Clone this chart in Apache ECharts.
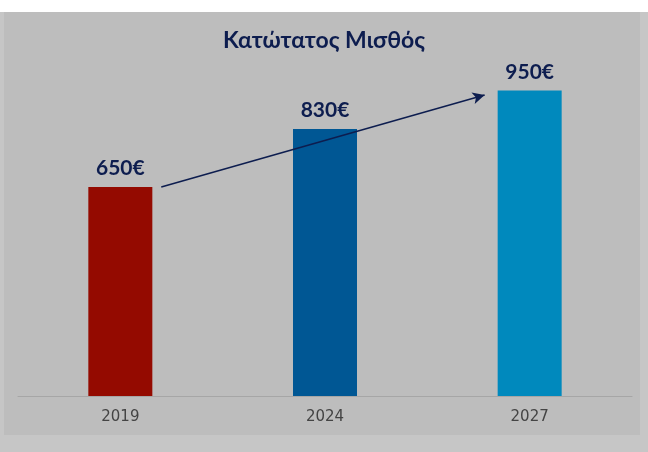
<!DOCTYPE html><html><head><meta charset="utf-8">
<script src="https://cdn.jsdelivr.net/npm/echarts@6/dist/echarts.min.js"></script>
<style>html,body{margin:0;padding:0;background:#fff;}
#bg{position:absolute;left:0;top:12px;width:648px;height:440px;background:#c6c6c6;}
#panel{position:absolute;left:4px;top:12px;width:636px;height:423px;background:#bdbdbd;}
#c{position:absolute;left:0;top:0;width:648px;height:452px;}</style></head><body>
<div id="bg"></div><div id="panel"></div><div id="c"></div>
<script>
const categories=['2019','2024','2027'];
const values=[650,830,950];
const colors=['#940a00','#005794','#0089bd'];
const title='Κατώτατος Μισθός';
const arrowFrom=[0.2,650], arrowTo=[1.78,936];
const ch=echarts.init(document.getElementById('c'));
ch.setOption({
 title:{text:title,left:'center',top:24,textStyle:{fontFamily:'Lato',fontWeight:'bold',fontSize:23,color:'#0d1d4f'}},
 grid:{left:18,right:16,top:74.4,bottom:56},
 xAxis:[{type:'category',data:categories,axisTick:{show:false},axisLine:{lineStyle:{color:'#a6a6a6'}},
   axisLabel:{color:'#444',fontSize:15,margin:14,fontFamily:'DejaVu Sans'}},
  {type:'value',min:-0.5,max:2.5,show:false}],
 yAxis:{type:'value',min:0,max:1000,show:false},
 series:[{type:'bar',barWidth:64,data:values.map((v,i)=>({value:v,itemStyle:{color:colors[i]}})),
   label:{show:true,position:'top',distance:8,formatter:'{c}€',fontFamily:'Lato',fontWeight:'bold',fontSize:21,color:'#0d1d4f'}},
  {type:'line',xAxisIndex:1,data:[],markLine:{silent:true,symbol:['none','arrow'],symbolSize:[9,12],label:{show:false},
   lineStyle:{color:'#0d1d4f',width:1.5,type:'solid'},data:[[{coord:arrowFrom},{coord:arrowTo}]]}}]
});
</script></body></html>
